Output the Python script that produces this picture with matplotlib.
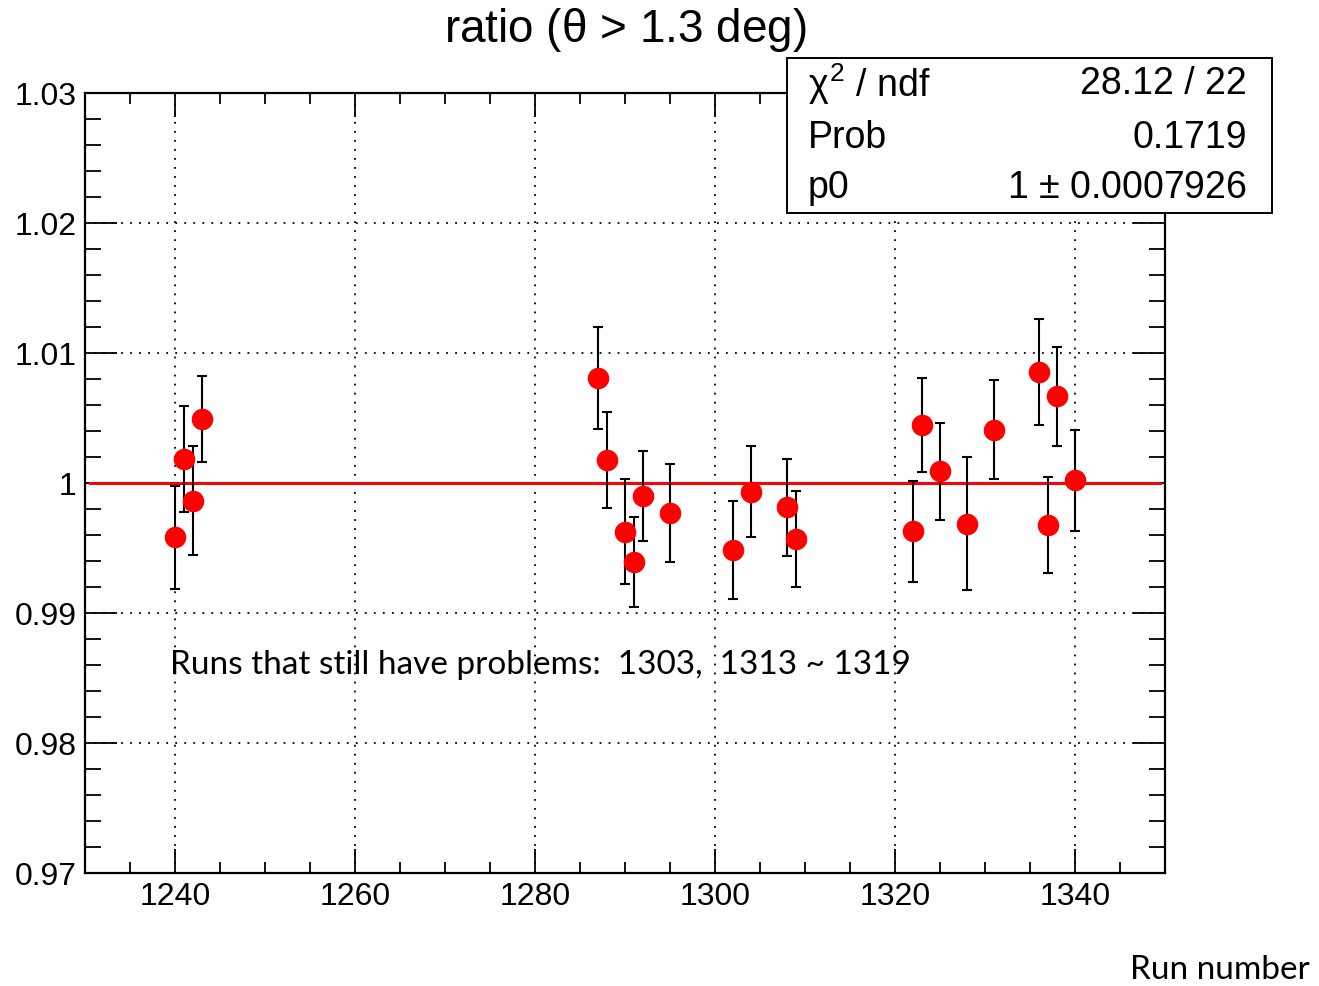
import numpy as np
import matplotlib
matplotlib.use("Agg")
import matplotlib.pyplot as plt
from matplotlib.ticker import MultipleLocator, FormatStrFormatter
from matplotlib.patches import Rectangle

# run numbers and the measured ratio with its error
runs = [1240, 1241, 1242, 1243,
        1287, 1288, 1290, 1291, 1292, 1295,
        1302, 1304, 1308, 1309,
        1322, 1323, 1325, 1328, 1331, 1336, 1337, 1338, 1340]
ratio = [0.99582, 1.00185, 0.99864, 1.00492,
         1.00808, 1.00177, 0.99626, 0.99395, 0.99902, 0.99767,
         0.99485, 0.99933, 0.99813, 0.99569,
         0.99628, 1.00446, 1.0009, 0.99687, 1.0041, 1.00856, 0.99677, 1.00667, 1.0002]
ratio_err = [0.00397, 0.0041, 0.00418, 0.00328,
             0.00395, 0.00369, 0.00405, 0.00346, 0.00345, 0.00377,
             0.00378, 0.0035, 0.00375, 0.00372,
             0.00388, 0.00365, 0.00372, 0.00513, 0.00381, 0.00406, 0.00373, 0.00382, 0.00387]

# constant fit result
p0 = 1.0
fit_range = [1230.6, 1349.4]

stats_names = ["$\\chi^2$ / ndf", "Prob", "p0"]
stats_values = ["28.12 / 22", "0.1719", "1 $\\pm$ 0.0007926"]

plt.rcParams['font.family'] = ['Liberation Sans', 'DejaVu Sans']
plt.rcParams['mathtext.fontset'] = 'custom'
plt.rcParams['mathtext.rm'] = 'Liberation Sans'
plt.rcParams['mathtext.it'] = 'Liberation Sans'

fig = plt.figure(figsize=(13.19, 9.87), dpi=100)
ax = fig.add_axes([85 / 1319, 1 - 874 / 987, 1080 / 1319, 780 / 987])

ax.errorbar(runs, ratio, yerr=ratio_err, fmt='o', color='red', markersize=14.5,
            ecolor='black', elinewidth=1.5, capsize=3.5, capthick=1.5, zorder=3)
ax.plot(fit_range, [p0, p0], color='red', linewidth=2.2, zorder=2)

ax.set_xlim(1230, 1350)
ax.set_ylim(0.97, 1.03)
ax.xaxis.set_major_locator(MultipleLocator(20))
ax.xaxis.set_minor_locator(MultipleLocator(5))
ax.yaxis.set_major_locator(MultipleLocator(0.01))
ax.yaxis.set_minor_locator(MultipleLocator(0.002))
ax.yaxis.set_major_formatter(FormatStrFormatter('%g'))

ax.tick_params(which='both', direction='in', top=True, right=True, width=1.3, labelsize=23)
ax.tick_params(axis='x', which='major', length=17, pad=6)
ax.tick_params(axis='x', which='minor', length=8)
ax.tick_params(axis='y', which='major', length=23, pad=6)
ax.tick_params(axis='y', which='minor', length=11.5)
for s in ax.spines.values():
    s.set_linewidth(1.6)

ax.grid(True, which='major', color='black', linestyle=(0, (1, 4)), linewidth=1.3)

ax.text(1239.5, 0.9861, "Runs that still have problems:  1303,  1313 ~ 1319",
        fontsize=24, family=['Lato', 'DejaVu Sans'], va='center', ha='left')

fig.text(625 / 1319, 1 - 30 / 987, "ratio ($\\theta$ > 1.3 deg)", fontsize=33,
         ha='center', va='center')
fig.text(1310 / 1319, 1 - 970 / 987, "Run number", fontsize=24,
         family=['Lato', 'DejaVu Sans'], ha='right', va='center')

# fit statistics box
box = Rectangle((787 / 1319, 1 - 214 / 987), 485 / 1319, 155 / 987,
                transform=fig.transFigure, facecolor='white', edgecolor='black',
                linewidth=1.4, zorder=5)
fig.patches.append(box)
row_y = [84, 138, 188]
for name, val, y in zip(stats_names, stats_values, row_y):
    fig.text(808 / 1319, 1 - y / 987, name, fontsize=27, ha='left', va='center', zorder=6)
    fig.text(1247 / 1319, 1 - y / 987, val, fontsize=27, ha='right', va='center', zorder=6)

fig.savefig("out.png", dpi=100)
